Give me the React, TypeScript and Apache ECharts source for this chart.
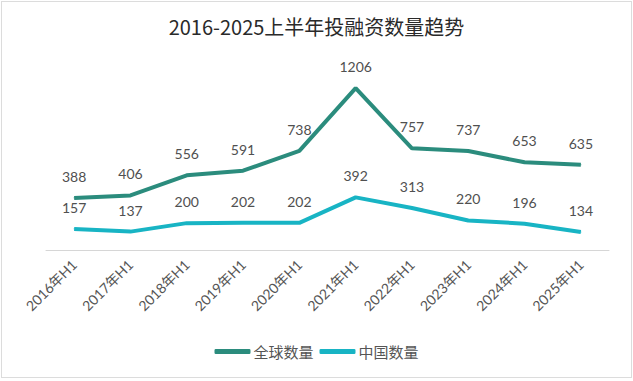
import React, { useEffect, useRef } from "react";
import * as echarts from "echarts";

const categories = ["2016年H1", "2017年H1", "2018年H1", "2019年H1", "2020年H1", "2021年H1", "2022年H1", "2023年H1", "2024年H1", "2025年H1"];
const globalCount = [388, 406, 556, 591, 738, 1206, 757, 737, 653, 635];
const chinaCount = [157, 137, 200, 202, 202, 392, 313, 220, 196, 134];

export default function App() {
  const ref = useRef<HTMLDivElement>(null);
  useEffect(() => {
    document.body.style.margin = "0";
    const chart = echarts.init(ref.current!, undefined, { renderer: "svg" });
    const font = "Lato, 'Noto Sans CJK SC', sans-serif";
    const cjk = "'Noto Sans CJK SC', sans-serif";
    chart.setOption({
      animation: false,
      backgroundColor: "#fff",
      title: {
        text: "2016-2025上半年投融资数量趋势",
        left: "center",
        top: 9,
        textStyle: { fontSize: 20, fontWeight: "normal", color: "#2a2a2a", fontFamily: cjk },
      },
      legend: {
        bottom: 13,
        left: "center",
        icon: "roundRect",
        itemWidth: 36,
        itemHeight: 5,
        itemGap: 6,
        textStyle: { fontSize: 15, color: "#555", fontFamily: cjk, padding: [0, 0, 0, -2] },
        data: ["全球数量", "中国数量"],
      },
      grid: { left: 44, right: 22, top: 60, bottom: 127 },
      xAxis: {
        type: "category",
        data: categories,
        boundaryGap: true,
        axisLine: { lineStyle: { color: "#d6d6d6" } },
        axisTick: { show: false },
        axisLabel: { rotate: 45, fontSize: 14, color: "#555", fontFamily: font, margin: 12, interval: 0 },
      },
      yAxis: {
        type: "value",
        min: 0,
        max: 1400,
        show: false,
        splitLine: { show: false },
      },
      series: [
        {
          name: "全球数量",
          type: "line",
          data: globalCount,
          symbol: "circle",
          symbolSize: 1,
          lineStyle: { width: 4, color: "#2b8c7d" },
          itemStyle: { color: "#2b8c7d" },
          label: { show: true, position: "top", distance: 14, fontSize: 14, color: "#505050", fontFamily: font },
        },
        {
          name: "中国数量",
          type: "line",
          data: chinaCount,
          symbol: "circle",
          symbolSize: 1,
          lineStyle: { width: 4, color: "#18b4c4" },
          itemStyle: { color: "#18b4c4" },
          label: { show: true, position: "top", distance: 14, fontSize: 14, color: "#505050", fontFamily: font },
        },
      ],
    });
    return () => chart.dispose();
  }, []);
  return (
    <div style={{ position: "fixed", left: 0, top: 0, width: 633, height: 381, background: "#fff" }}>
      <div
        ref={ref}
        style={{ position: "absolute", left: 1, top: 1, width: 629, height: 375, border: "1px solid #dcdcdc" }}
      />
    </div>
  );
}
